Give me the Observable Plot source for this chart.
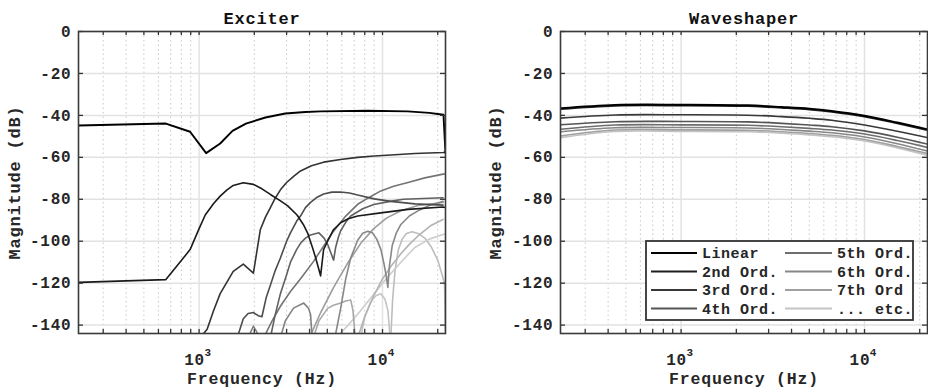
<!DOCTYPE html>
<html><head><meta charset="utf-8">
<script src="https://cdn.jsdelivr.net/npm/d3@7"></script>
<script src="https://cdn.jsdelivr.net/npm/@observablehq/plot@0.6"></script>
<style>
body{margin:0;background:#fff;}
#wrap{position:relative;width:928px;height:390px;display:flex;}
#wrap svg text{letter-spacing:0.8px;}
#legend{position:absolute;left:645px;top:240px;}
</style></head><body><div id="wrap"></div>
<script>
// ---------- axes / labels ----------
const freqDomain = [220, 22050];
const dbDomain = [-144, 0];
const yTickValues = [0, -20, -40, -60, -80, -100, -120, -140];
const xMajorTicks = [1000, 10000];
const xTickBase = "10";
const xTickExponents = ["3", "4"];
const xMinorTicks = [300, 400, 500, 600, 700, 800, 900, 2000, 3000, 4000, 5000, 6000, 7000, 8000, 9000, 20000];
const panelTitles = ["Exciter", "Waveshaper"];
const xLabel = "Frequency (Hz)";
const yLabel = "Magnitude (dB)";
const seriesNames = ["Linear", "2nd Ord.", "3rd Ord.", "4th Ord.", "5th Ord.", "6th Ord.", "7th Ord", "... etc."];
const seriesColors = ["#000000", "#1e1e1e", "#383838", "#555555", "#6e6e6e", "#878787", "#a0a0a0", "#c4c4c4"];

// ---------- Exciter curves: [frequency Hz, dB] ----------
const excLinear = [[220,-44.8],[659,-43.9],[893,-47.8],[1092,-58],[1303,-53.4],[1521,-47.4],[1800,-43.9],[2300,-41],[2950,-39.1],[3800,-38.4],[4600,-38.1],[8300,-37.8],[13700,-38.1],[18000,-38.8],[21500,-39.7],[22050,-58]];
const exc2nd = [[220,-119.6],[659,-118.3],[770,-111],[893,-104],[1000,-94],[1080,-87.5],[1200,-82],[1303,-78.5],[1420,-75.5],[1535,-73.4],[1741,-72.1],[1977,-72.9],[2200,-75],[2447,-77.7],[2750,-80.5],[3032,-83],[3420,-87.5],[3700,-92],[3901,-96],[4150,-103],[4323,-108],[4596,-116.5],[4772,-104],[5019,-100],[5413,-94.4],[5913,-91.2],[6500,-89.3],[7320,-88],[9790,-86.5],[13770,-84.8],[21380,-83.7],[22050,-84]];
const exc3rd = [[1013,-146],[1106,-142],[1200,-133],[1303,-125],[1535,-114.4],[1741,-110.9],[1977,-115.2],[2158,-94.4],[2300,-88.5],[2447,-84],[2600,-79.5],[2775,-75.5],[3000,-72],[3300,-68.8],[3571,-66.5],[4100,-64],[4772,-62.3],[5900,-61],[7320,-60],[9000,-59.4],[11100,-58.9],[15000,-58.2],[21380,-57.7],[22050,-57.6]];
const exc4th = [[1614,-146],[1741,-137],[1850,-134.5],[1977,-134],[2100,-135.5],[2200,-136],[2320,-127],[2447,-121],[2600,-114],[2775,-108],[3000,-100],[3148,-96],[3400,-90.5],[3571,-88],[3800,-84],[4053,-81.5],[4400,-79],[4772,-77.5],[5300,-76.6],[5913,-76.5],[6600,-77],[7320,-78],[9000,-79.8],[11100,-81],[15000,-82.2],[21380,-82.8]];
const exc5th = [[2447,-146],[2600,-135],[2775,-125],[3000,-116],[3148,-110],[3400,-104],[3571,-101],[3800,-98.5],[4053,-97],[4500,-96],[4800,-98.5],[5050,-102],[5250,-106],[5413,-109],[5550,-103],[5750,-98],[5913,-95],[6300,-91],[6704,-88],[7800,-84.5],[8958,-82.5],[11000,-81],[13000,-80],[21380,-79.3]];
const exc6th = [[2250,-146],[2500,-138],[2775,-131],[3148,-124],[3600,-117.5],[4209,-109.6],[4800,-102],[5413,-95.2],[6300,-88],[7320,-82.4],[8500,-79],[9790,-76],[11500,-73.8],[13770,-72],[17000,-69.8],[21380,-68],[22050,-67.9]];
const exc7th = [[5500,-146],[5913,-132],[6300,-118],[6704,-108],[7320,-99.5],[7800,-96.2],[8313,-95.3],[8800,-96],[9300,-99],[9800,-104],[10200,-111],[10500,-117],[10689,-122],[10900,-112],[11300,-102],[11900,-96],[12590,-92],[14000,-88],[15610,-85.5],[18000,-83],[21380,-81]];
const excBump = [[1850,-146],[1977,-140.5],[2150,-146]];
const excArchA = [[2775,-146],[2950,-138],[3271,-131.9],[3720,-129.5],[3950,-132],[4053,-135],[4130,-146]];
const excArchB = [[4200,-146],[4500,-138],[5019,-132],[5400,-130.5],[5913,-129.5],[6300,-128.5],[6704,-128],[6900,-133],[7100,-146]];
const excRiseA = [[4000,-146],[4600,-134],[5413,-122],[6400,-111],[7607,-101],[8958,-94],[10500,-89],[12590,-85.5],[15610,-83],[21380,-81.5]];
const excRiseB = [[7320,-146],[8000,-136],[8958,-126],[10000,-118],[11100,-112],[12590,-106],[14000,-101.5],[15610,-97.5],[18380,-92.5],[21380,-89.6]];
const excArchC = [[7607,-146],[8000,-136],[8600,-129],[9200,-126],[9790,-125],[10300,-127.5],[10700,-133],[11000,-146]];
const excArchD = [[11100,-146],[11350,-128],[11700,-114],[12200,-104],[12800,-99],[13500,-96.3],[14500,-95.5],[15610,-96.3],[17000,-98.5],[18380,-102.5],[20000,-109],[21380,-117.5],[21800,-121],[22050,-146]];
const excRiseC = [[5600,-146],[6500,-140],[7607,-133],[9000,-125],[10689,-117],[12590,-110],[15000,-103],[18000,-99],[21380,-96.8],[22050,-96.5]];

// ---------- Waveshaper curves ----------
const wsFreq = [220, 437, 1000, 2312, 3540, 5000, 6622, 10000, 15110, 22050];
const wsLinear = [-36.6,-35.0,-34.9,-35.2,-36.0,-36.8,-37.9,-40.2,-43.4,-46.6];
const ws2nd = [-37.0,-35.4,-35.3,-35.6,-36.4,-37.2,-38.3,-40.6,-43.8,-47.0];
const ws3rd = [-41.3,-39.8,-39.7,-39.9,-40.6,-41.4,-42.3,-44.6,-47.6,-50.6];
const ws4th = [-44.5,-43.0,-42.9,-43.1,-43.8,-44.6,-45.4,-47.4,-50.4,-53.7];
const ws5th = [-46.6,-44.6,-44.5,-44.7,-45.4,-46.2,-47.0,-48.9,-52.0,-55.3];
const ws6th = [-47.8,-45.9,-45.8,-46.0,-46.7,-47.5,-48.3,-50.3,-53.5,-57.0];
const ws7th = [-49.8,-47.0,-46.9,-47.1,-47.8,-48.6,-49.5,-51.5,-54.8,-58.2];
const wsEtc = [-50.6,-47.7,-47.6,-47.8,-48.5,-49.3,-50.2,-52.2,-55.5,-59.0];

// ---------- build ----------
const exciterCurves = [
  {data: excArchD, color: "#bdbdbd", w: 1.6},
  {data: excRiseC, color: "#cdcdcd", w: 1.6},
  {data: excArchC, color: "#c4c4c4", w: 1.6},
  {data: excRiseB, color: "#b3b3b3", w: 1.6},
  {data: excArchB, color: "#a8a8a8", w: 1.6},
  {data: excRiseA, color: "#9c9c9c", w: 1.6},
  {data: exc7th, color: "#888888", w: 1.6},
  {data: excArchA, color: "#828282", w: 1.6},
  {data: excBump, color: "#828282", w: 1.6},
  {data: exc6th, color: "#747474", w: 1.6},
  {data: exc5th, color: "#606060", w: 1.6},
  {data: exc4th, color: "#4d4d4d", w: 1.6},
  {data: exc3rd, color: "#333333", w: 1.6},
  {data: exc2nd, color: "#1a1a1a", w: 1.6},
  {data: excLinear, color: "#000000", w: 1.9}
];
const wsSeries = [wsLinear, ws2nd, ws3rd, ws4th, ws5th, ws6th, ws7th, wsEtc];
const waveshaperCurves = wsSeries.map((vals, i) => ({
  data: wsFreq.map((f, j) => [f, vals[j]]), color: seriesColors[i], w: i < 2 ? 1.9 : 1.6
})).reverse();

const FONT = '"Liberation Mono", "DejaVu Sans Mono", monospace';
const allXTicks = xMajorTicks.concat(xMinorTicks);

function panel({title, curves, marginLeft, marginRight, ylabelDx, curve}) {
  const W = 464, H = 390, mt = 31, mb = 57;
  const fh = H - mt - mb, fw = W - marginLeft - marginRight;
  return Plot.plot({
    width: W, height: H, marginLeft, marginRight, marginTop: mt, marginBottom: mb,
    x: {type: "log", domain: freqDomain, axis: null},
    y: {domain: dbDomain, axis: null},
    style: {fontFamily: FONT, fontWeight: "bold", background: "#fff", overflow: "visible", color: "#262626"},
    marks: [
      Plot.ruleX(xMinorTicks, {x: d => d, stroke: "#c8c8c8", strokeDasharray: "1.5,3"}),
      Plot.ruleY(yTickValues, {y: d => d, stroke: "#e2e2e2", strokeWidth: 1.5}),
      Plot.ruleX(xMajorTicks, {x: d => d, stroke: "#e2e2e2", strokeWidth: 1.5}),
      ...curves.map(c => Plot.line(c.data, {x: d => d[0], y: d => d[1], stroke: c.color, strokeWidth: c.w, curve, clip: true})),
      Plot.tickY(yTickValues, {y: d => d, insetRight: fw - 5, stroke: "#333", strokeWidth: 1.3}),
      Plot.tickY(yTickValues, {y: d => d, insetLeft: fw - 5, stroke: "#333", strokeWidth: 1.3}),
      Plot.tickX(allXTicks, {x: d => d, insetTop: fh - 4, stroke: "#333", strokeWidth: 1.3}),
      Plot.tickX(allXTicks, {x: d => d, insetBottom: fh - 4, stroke: "#333", strokeWidth: 1.3}),
      Plot.frame({stroke: "#3a3a3a", strokeWidth: 1.6}),
      Plot.text(yTickValues, {y: d => d, text: d => String(d), frameAnchor: "left", textAnchor: "end", lineAnchor: "middle", dx: -7, fontSize: 16, fill: "#262626"}),
      Plot.text(xMajorTicks, {x: d => d, text: () => xTickBase, frameAnchor: "bottom", lineAnchor: "middle", dy: 26, dx: -4.5, fontSize: 16, fill: "#262626"}),
      Plot.text(xMajorTicks, {x: d => d, text: (d, i) => xTickExponents[i], frameAnchor: "bottom", lineAnchor: "middle", dy: 19, dx: 9, fontSize: 11, fill: "#262626"}),
      Plot.text([title], {frameAnchor: "top", lineAnchor: "middle", dy: -13, fontSize: 17, fill: "#111"}),
      Plot.text([xLabel], {frameAnchor: "bottom", lineAnchor: "middle", dy: 45, fontSize: 16.5, fill: "#262626"}),
      Plot.text([yLabel], {frameAnchor: "left", textAnchor: "middle", lineAnchor: "middle", dx: ylabelDx, rotate: -90, fontSize: 17, fill: "#262626"})
    ]
  });
}

const wrap = document.getElementById("wrap");
wrap.appendChild(panel({title: panelTitles[0], curves: exciterCurves, marginLeft: 78, marginRight: 19, ylabelDx: -64, curve: "linear"}));
wrap.appendChild(panel({title: panelTitles[1], curves: waveshaperCurves, marginLeft: 96, marginRight: 1, ylabelDx: -65, curve: "catmull-rom"}));

// legend
const lg = d3.select(wrap).append("svg").attr("id", "legend").attr("width", 270).attr("height", 82)
  .style("font-family", FONT).style("font-weight", "bold");
lg.append("rect").attr("x", 1).attr("y", 1).attr("width", 267).attr("height", 79)
  .attr("fill", "#fff").attr("stroke", "#333").attr("stroke-width", 1.8);
seriesNames.forEach((name, i) => {
  const col = Math.floor(i / 4), row = i % 4;
  const x0 = col === 0 ? 6 : 140, x1 = col === 0 ? 52 : 187, tx = col === 0 ? 57 : 192;
  const y = 13 + row * 18.5;
  lg.append("line").attr("x1", x0).attr("x2", x1).attr("y1", y).attr("y2", y)
    .attr("stroke", seriesColors[i]).attr("stroke-width", 2);
  lg.append("text").attr("x", tx).attr("y", y).attr("dy", "0.35em").attr("font-size", 15)
    .attr("fill", "#262626").style("letter-spacing", "0.5px").text(name);
});
</script></body></html>
